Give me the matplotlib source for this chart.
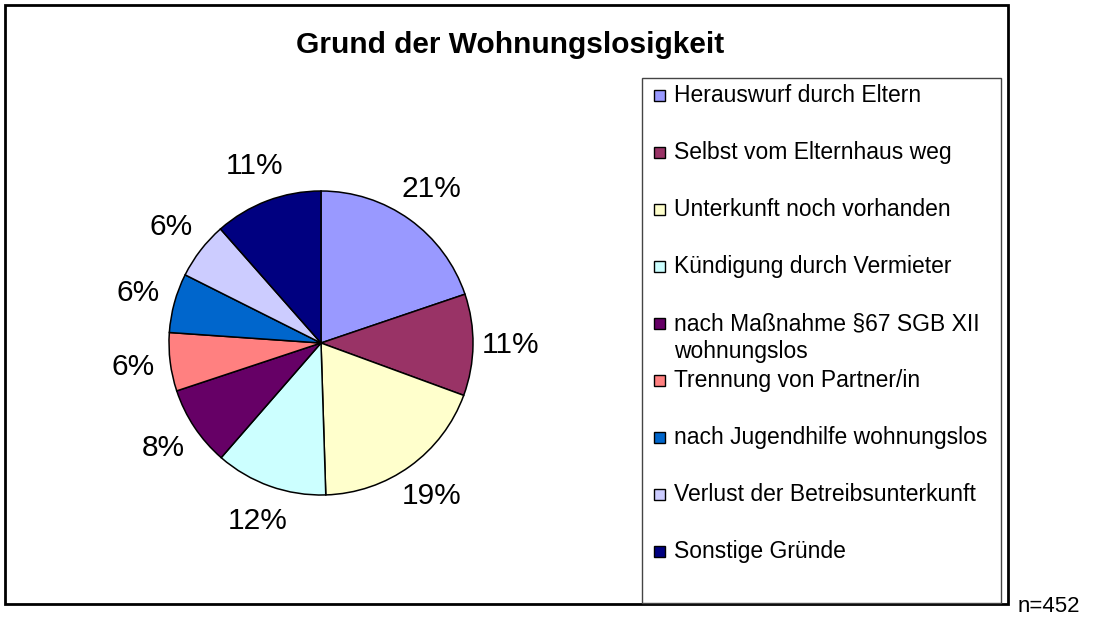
import matplotlib
matplotlib.use("Agg")
import matplotlib.pyplot as plt
from matplotlib.patches import Rectangle

plt.rcParams["font.family"] = ["Liberation Sans", "DejaVu Sans"]

# ---------------- data ----------------
reasons = [
    "Herauswurf durch Eltern",
    "Selbst vom Elternhaus weg",
    "Unterkunft noch vorhanden",
    "Kündigung durch Vermieter",
    "nach Maßnahme §67 SGB XII\nwohnungslos",
    "Trennung von Partner/in",
    "nach Jugendhilfe wohnungslos",
    "Verlust der Betreibsunterkunft",
    "Sonstige Gründe",
]
# wedge sizes as drawn and the printed labels
shares = [19.8, 10.8, 18.9, 11.9, 8.5, 6.2, 6.3, 6.1, 11.5]
pct_labels = ["21%", "11%", "19%", "12%", "8%", "6%", "6%", "6%", "11%"]
colors = ["#9999FF", "#993366", "#FFFFCC", "#CCFFFF", "#660066",
          "#FF8080", "#0066CC", "#CCCCFF", "#000080"]
title = "Grund der Wohnungslosigkeit"
note = "n=452"

W, H = 1099, 617
fig = plt.figure(figsize=(W / 100, H / 100), dpi=100)


def fx(px):
    return px / W


def fy(py):
    return 1 - py / H


# outer chart frame
fig.patches.append(Rectangle((fx(5), fy(604)), fx(1003), 599 / H,
                             transform=fig.transFigure, fill=False,
                             lw=2, ec="black"))

# pie
cx, cy, r = 321, 343, 152
half = 1.25 * r
ax = fig.add_axes([fx(cx - half), fy(cy + half), 2 * half / W, 2 * half / H])
lab_iter = iter(pct_labels)
ax.pie(shares, colors=colors, startangle=90, counterclock=False,
       autopct=lambda p: next(lab_iter), pctdistance=1.245,
       wedgeprops=dict(edgecolor="black", linewidth=1.1),
       textprops=dict(fontsize=21.5, color="black"))
ax.set_xlim(-1.25, 1.25)
ax.set_ylim(-1.25, 1.25)
ax.set_aspect("equal")
ax.axis("off")

fig.text(fx(510), fy(53), title, ha="center", va="baseline",
         fontsize=21.5, fontweight="bold")

# legend box drawn by hand (wrapped entry keeps the regular spacing)
fig.patches.append(Rectangle((fx(642), fy(603)), fx(1001 - 642), 525 / H,
                             transform=fig.transFigure, fill=False,
                             lw=1, ec="#444444"))
base, step, sq, line_h = 102, 57, 11, 28
for i, (lab, col) in enumerate(zip(reasons, colors)):
    y = base + i * step
    fig.patches.append(Rectangle((fx(654), fy(y - 1)), sq / W, sq / H,
                                 transform=fig.transFigure, fc=col,
                                 ec="black", lw=1))
    for j, part in enumerate(lab.split("\n")):
        fig.text(fx(674), fy(y + j * line_h), part, ha="left",
                 va="baseline", fontsize=16.5)

fig.text(fx(1018), fy(612), note, ha="left", va="baseline", fontsize=16)

fig.savefig("out.png", dpi=100)
